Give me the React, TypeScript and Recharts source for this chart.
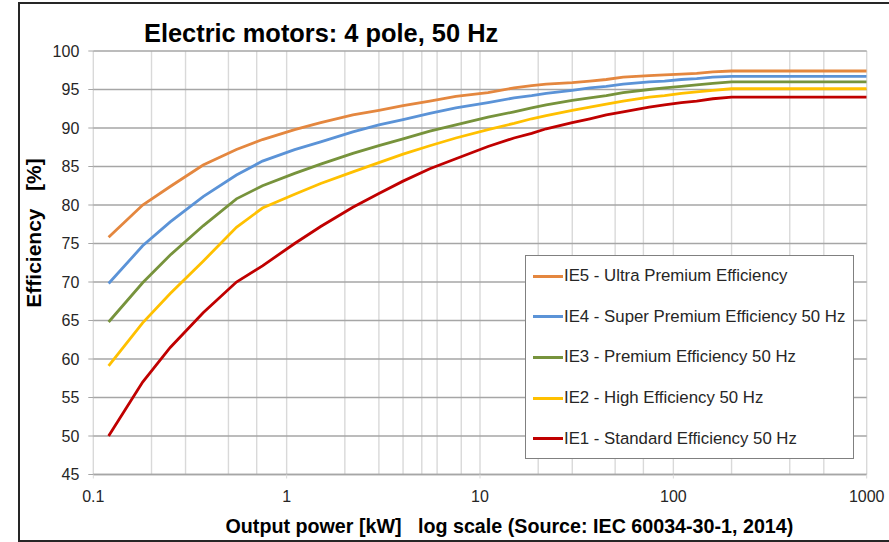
import React from 'react';
import { LineChart, Line, XAxis, YAxis, CartesianGrid, Legend } from 'recharts';

// Output power [kW]
const powers = [0.12, 0.18, 0.25, 0.37, 0.55, 0.75, 1.1, 1.5, 2.2, 3, 4, 5.5, 7.5, 11, 15, 18.5, 22, 30, 37, 45, 55, 75, 90, 110, 132, 160, 200, 1000];

const ie5 = [75.8, 80.0, 82.4, 85.2, 87.2, 88.5, 89.8, 90.7, 91.7, 92.3, 92.9, 93.5, 94.1, 94.6, 95.2, 95.5, 95.7, 95.9, 96.1, 96.3, 96.6, 96.8, 96.9, 97.0, 97.1, 97.3, 97.4, 97.4];
const ie4 = [69.8, 74.7, 77.8, 81.1, 83.9, 85.7, 87.2, 88.2, 89.5, 90.4, 91.1, 91.9, 92.6, 93.3, 93.9, 94.2, 94.5, 94.9, 95.2, 95.4, 95.7, 96.0, 96.1, 96.3, 96.4, 96.6, 96.7, 96.7];
const ie3 = [64.8, 69.9, 73.5, 77.3, 80.8, 82.5, 84.1, 85.3, 86.7, 87.7, 88.6, 89.6, 90.4, 91.4, 92.1, 92.6, 93.0, 93.6, 93.9, 94.2, 94.6, 95.0, 95.2, 95.4, 95.6, 95.8, 96.0, 96.0];
const ie2 = [59.1, 64.7, 68.5, 72.7, 77.1, 79.6, 81.4, 82.8, 84.3, 85.5, 86.6, 87.7, 88.7, 89.8, 90.6, 91.2, 91.6, 92.3, 92.7, 93.1, 93.5, 94.0, 94.2, 94.5, 94.7, 94.9, 95.1, 95.1];
const ie1 = [50.0, 57.0, 61.5, 66.0, 70.0, 72.1, 75.0, 77.2, 79.7, 81.5, 83.1, 84.7, 86.0, 87.6, 88.7, 89.3, 89.9, 90.7, 91.2, 91.7, 92.1, 92.7, 93.0, 93.3, 93.5, 93.8, 94.0, 94.0];

const xTicks = [0.1, 1, 10, 100, 1000];
const xMinorGrid = [0.1, 0.2, 0.3, 0.4, 0.5, 0.6, 0.7, 0.8, 0.9, 1, 2, 3, 4, 5, 6, 7, 8, 9, 10, 20, 30, 40, 50, 60, 70, 80, 90, 100, 200, 300, 400, 500, 600, 700, 800, 900, 1000];
const yTicks = [45, 50, 55, 60, 65, 70, 75, 80, 85, 90, 95, 100];

const seriesNames = [
  'IE5 - Ultra Premium Efficiency',
  'IE4 - Super Premium Efficiency 50 Hz',
  'IE3 - Premium Efficiency 50 Hz',
  'IE2 - High Efficiency 50 Hz',
  'IE1 - Standard Efficiency 50 Hz',
];
const seriesKeys = ['ie5', 'ie4', 'ie3', 'ie2', 'ie1'];
const seriesColors = ['#E4873F', '#5B93D7', '#77933C', '#FFC000', '#C00000'];

const data = powers.map((p, i) => ({ p, ie5: ie5[i], ie4: ie4[i], ie3: ie3[i], ie2: ie2[i], ie1: ie1[i] }));

const FONT = '"Liberation Sans", Arial, sans-serif';

const LegendBox = () => (
  <div style={{ width: 329, height: 204, border: '1px solid #808080', boxSizing: 'border-box', background: '#fff', fontFamily: FONT }}>
    {seriesKeys.map((k, i) => (
      <div key={k} style={{ height: 40.6, display: 'flex', alignItems: 'center' }}>
        <div style={{ marginLeft: 7, width: 30, height: 3, background: seriesColors[i] }} />
        <span style={{ marginLeft: 1, fontSize: 16.8, color: '#262626', whiteSpace: 'pre' }}>{seriesNames[i]}</span>
      </div>
    ))}
  </div>
);

export default function App() {
  return (
    <div style={{ position: 'absolute', left: 0, top: 0, width: 889, height: 542, background: '#fff', fontFamily: FONT, overflow: 'hidden' }}>
      <div style={{ position: 'absolute', left: 18, top: 2, width: 900, height: 536, borderLeft: '2px solid #262626', borderTop: '2px solid #262626', borderBottom: '2px solid #262626' }} />
      <LineChart width={889} height={542} data={data} margin={{ top: 51, right: 22.3, left: 0, bottom: 37.5 }} style={{ position: 'absolute', left: 0, top: 0 }}>
        <CartesianGrid horizontal={false} verticalValues={xMinorGrid} stroke="#d9d9d9" strokeWidth={1.4} />
        <CartesianGrid vertical={false} horizontalValues={yTicks} stroke="#a6a6a6" strokeWidth={1.3} />
        <XAxis
          dataKey="p"
          type="number"
          scale="log"
          domain={[0.1, 1000]}
          ticks={xTicks}
          allowDataOverflow
          height={30}
          tickSize={4}
          tickMargin={12}
          axisLine={{ stroke: '#a6a6a6', strokeWidth: 1.3 }}
          tickLine={{ stroke: '#d9d9d9' }}
          tick={{ fill: '#262626', fontSize: 16, fontFamily: FONT }}
          tickFormatter={(v: number) => String(v)}
        />
        <YAxis
          type="number"
          domain={[45, 100]}
          ticks={yTicks}
          width={93.3}
          tickSize={5}
          tickMargin={9}
          axisLine={false}
          tickLine={{ stroke: '#a6a6a6' }}
          tick={{ fill: '#262626', fontSize: 16, fontFamily: FONT }}
        />
        {seriesKeys.map((k, i) => (
          <Line key={k} type="linear" dataKey={k} name={seriesNames[i]} stroke={seriesColors[i]} strokeWidth={2.8} dot={false} isAnimationActive={false} />
        ))}
        <Legend
          layout="vertical"
          align="center"
          verticalAlign="middle"
          content={() => <LegendBox />}
          wrapperStyle={{ left: 525, top: 255, width: 329, height: 204 }}
        />
      </LineChart>
      <div style={{ position: 'absolute', left: 144, top: 17.5, lineHeight: '30px', fontSize: 25.4, fontWeight: 'bold', color: '#000', whiteSpace: 'pre' }}>
        Electric motors: 4 pole, 50 Hz
      </div>
      <div style={{ position: 'absolute', left: 225.5, top: 512, lineHeight: '28px', fontSize: 19.7, fontWeight: 'bold', color: '#000', whiteSpace: 'pre' }}>
        {'Output power [kW]   log scale (Source: IEC 60034-30-1, 2014)'}
      </div>
      <div style={{ position: 'absolute', left: 33.5, top: 232.5, lineHeight: '26px', fontSize: 21, fontWeight: 'bold', color: '#000', whiteSpace: 'pre', transform: 'translate(-50%, -50%) rotate(-90deg)' }}>
        {'Efficiency   [%]'}
      </div>
    </div>
  );
}
